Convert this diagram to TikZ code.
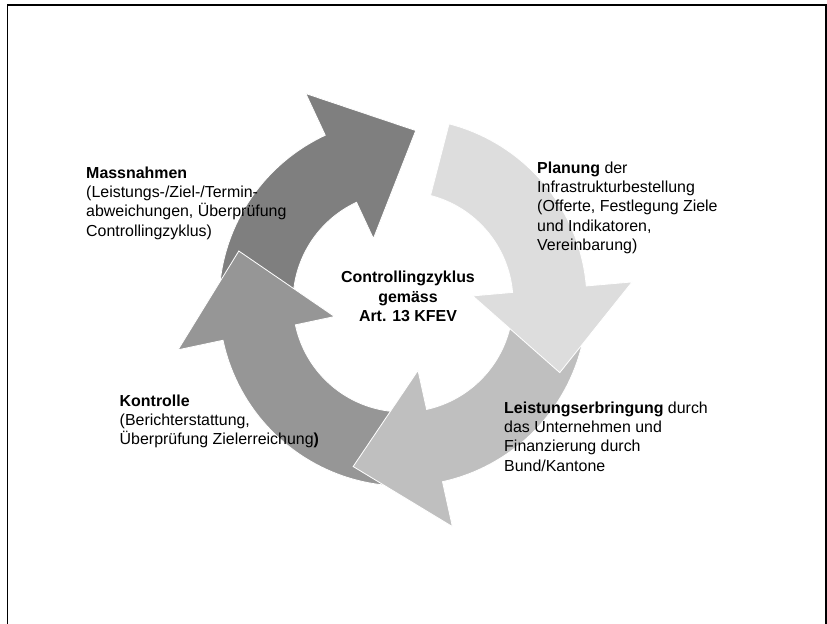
\documentclass[tikz,border=0pt]{standalone}
\usepackage{fontspec}
\setmainfont{Liberation Sans}
\usetikzlibrary{calc}

\definecolor{massgray}{HTML}{7F7F7F}
\definecolor{kontgray}{HTML}{969696}
\definecolor{leistgray}{HTML}{BFBFBF}
\definecolor{plangray}{HTML}{DDDDDD}

\newcommand{\cycfont}{\fontsize{13.6}{16.5}\selectfont}

% one piece of the ring: colour, start angle, angle of the head base
\newcommand{\ringarrow}[3]{%
  \fill[ringpart, fill=#1]
    (#2:110) arc[start angle=#2, end angle=#3, radius=110]
    -- (#3:70) -- ($(#3:150)+({#3-90}:84)$) -- (#3:230) -- (#3:184)
    arc[start angle=#3, end angle=#2, radius=184] -- cycle;}

\begin{document}
\begin{tikzpicture}
[x=0.03cm, y=-0.03cm, font=\cycfont]
\tikzstyle{phase}=[anchor=north west, align=left, inner sep=0pt]
\tikzstyle{hub}=[anchor=north, align=center, inner sep=0pt, font=\cycfont\bfseries]
\tikzstyle{ringpart}=[draw=white, line width=0.7pt, line join=miter]

\useasboundingbox (0,0) rectangle (827,624);
\clip (0,0) rectangle (827,624);
\draw[line width=1.5pt] (7.5,640) -- (7.5,5) -- (826,5) -- (826,640);

% the cycle
\begin{scope}[shift={(403,302)}, y=0.03cm]
\ringarrow{massgray}{180}{115}
\ringarrow{kontgray}{267}{192}
\ringarrow{leistgray}{-10}{-77.6}
\ringarrow{plangray}{75.5}{5}
\end{scope}

\node[hub]   (zyklus)     at (408,271)   {Controllingzyklus\\gemäss\\Art. 13 KFEV};
\node[phase] (massnahmen) at (86,166.5)  {\textbf{Massnahmen}\\(Leistungs-/Ziel-/Termin-\\abweichungen, Überprüfung\\Controllingzyklus)};
\node[phase] (planung)    at (537,161.5) {\textbf{Planung} der\\Infrastrukturbestellung\\(Offerte, Festlegung Ziele\\und Indikatoren,\\Vereinbarung)};
\node[phase] (leistung)   at (504,401.5) {\textbf{Leistungserbringung} durch\\das Unternehmen und\\Finanzierung durch\\Bund/Kantone};
\node[phase] (kontrolle)  at (119.5,394.5) {\textbf{Kontrolle}\\(Berichterstattung,\\Überprüfung Zielerreichung\textbf{)}};
\end{tikzpicture}
\end{document}
